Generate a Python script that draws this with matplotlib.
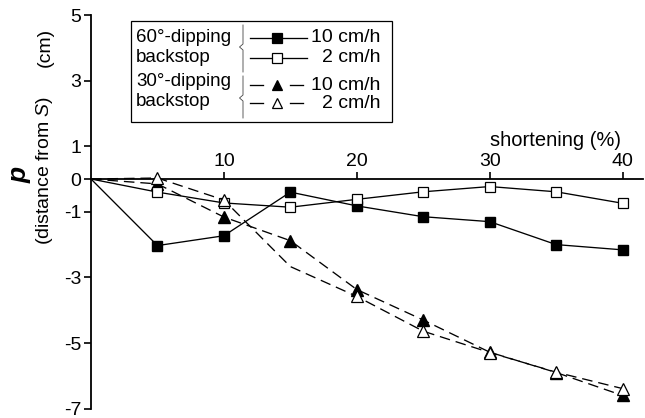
import matplotlib
matplotlib.use("Agg")
import matplotlib.pyplot as plt
from matplotlib.lines import Line2D
from matplotlib.patches import Rectangle

plt.rcParams['font.family'] = ['Liberation Sans', 'DejaVu Sans']
plt.rcParams['mathtext.fontset'] = 'custom'
plt.rcParams['mathtext.rm'] = 'Liberation Sans'
plt.rcParams['mathtext.it'] = 'Liberation Sans:italic'

# shortening (%) and distance p from S (cm)
shortening = [0, 5, 10, 15, 20, 25, 30, 35, 40]
p60_fast = [0, -2.03, -1.73, -0.40, -0.82, -1.15, -1.30, -2.00, -2.16]
p60_slow = [0, -0.40, -0.73, -0.86, -0.62, -0.39, -0.23, -0.39, -0.74]
p30_fast = [0, -0.15, -1.16, -1.88, -3.37, -4.30, -5.28, -5.90, -6.60]
p30_slow = [0, 0.03, -0.64, -2.67, -3.58, -4.64, -5.29, -5.89, -6.39]

x_ticks = [10, 20, 30, 40]
y_ticks = [5, 3, 1, 0, -1, -3, -5, -7]

W, H = 645, 418
fig = plt.figure(figsize=(W / 100, H / 100), dpi=100)


def fx(px):
    return px / W


def fy(py):
    return 1 - py / H


x0, x1 = 91, 643
y_top, y_bot = 15, 408.6
ax = fig.add_axes([fx(x0), fy(y_bot), (x1 - x0) / W, (y_bot - y_top) / H])
ax.set_xlim(0, (x1 - x0) / 13.29)
ax.set_ylim(-7, 5)

lw = 0.95
ms = 7.2
dash = (0, (8, 4.5))
ax.plot(shortening, p60_fast, color='black', lw=lw, marker='s', ms=ms,
        mfc='black', mec='black', markevery=list(range(1, 9)), zorder=3)
ax.plot(shortening, p30_fast, color='black', lw=lw, ls=dash, marker='^', ms=ms + 1,
        mfc='black', mec='black', markevery=list(range(1, 9)), zorder=3)
ax.plot(shortening, p60_slow, color='black', lw=lw, marker='s', ms=ms,
        mfc='white', mec='black', mew=0.9, markevery=list(range(1, 9)), zorder=4)
ax.plot(shortening, p30_slow, color='black', lw=lw, ls=dash, marker='^', ms=ms + 1,
        mfc='white', mec='black', mew=0.9, markevery=[1, 2, 4, 5, 6, 7, 8], zorder=4)

for s in ['right', 'bottom']:
    ax.spines[s].set_visible(False)
ax.spines['top'].set_position(('data', 0))
ax.spines['top'].set_linewidth(1.3)
ax.spines['left'].set_linewidth(1.3)
ax.xaxis.set_ticks_position('top')
ax.set_xticks(x_ticks)
ax.set_yticks(y_ticks)
ax.set_yticklabels([str(v) for v in y_ticks])
ax.tick_params(axis='x', direction='out', length=5, width=1.2, pad=1.5, labelsize=14)
ax.tick_params(axis='y', direction='out', length=5, width=1.2, pad=2, labelsize=14)
ax.patch.set_alpha(0)

fig.text(fx(556), fy(140), 'shortening (%)', ha='center', va='center', fontsize=14.5)

# axis title
fig.text(fx(20), fy(175), 'p', ha='center', va='center', rotation=90,
         fontsize=19, fontweight='bold', fontstyle='italic')
fig.text(fx(45), fy(170), r'(distance from $\mathit{S}$)', ha='center', va='center',
         rotation=90, fontsize=14)
fig.text(fx(45), fy(47), '(cm)', ha='center', va='center', rotation=90, fontsize=14)

# legend box
fig.patches.append(Rectangle((fx(131), fy(122)), (392 - 131) / W, (122 - 21) / H,
                             transform=fig.transFigure, fill=False, ec='black', lw=0.9))
for txt, py in [('60°-dipping', 37), ('backstop', 57), ('30°-dipping', 82), ('backstop', 101)]:
    fig.text(fx(136), fy(py), txt, ha='left', va='center', fontsize=13.5)

# braces grouping the two backstops
for ya, ym, yb in [(25, 47, 72), (76, 98, 118)]:
    fig.lines.append(Line2D([fx(243), fx(243), fx(239.5), fx(243), fx(243)],
                            [fy(ya), fy(ym - 3), fy(ym), fy(ym + 3), fy(yb)],
                            transform=fig.transFigure, color='#444444', lw=0.6))

rows = [(38, '-', 's', 'black', '10 cm/h'),
        (58, '-', 's', 'white', '2 cm/h'),
        (85, dash, '^', 'black', '10 cm/h'),
        (103, dash, '^', 'white', '2 cm/h')]
for py, ls, mk, fc, lab in rows:
    if ls == '-':
        fig.lines.append(Line2D([fx(250), fx(307)], [fy(py), fy(py)],
                                transform=fig.transFigure, color='black', lw=lw))
    else:
        for a, b in [(250, 263), (290, 303)]:
            fig.lines.append(Line2D([fx(a), fx(b)], [fy(py), fy(py)],
                                    transform=fig.transFigure, color='black', lw=lw))
    fig.lines.append(Line2D([fx(277)], [fy(py)], transform=fig.transFigure, ls='none',
                            marker=mk, ms=6.5 if mk == 's' else 7.5,
                            mfc=fc, mec='black', mew=0.9))
    fig.text(fx(380), fy(py), lab, ha='right', va='center', fontsize=14)

fig.savefig('out.png', dpi=100)
